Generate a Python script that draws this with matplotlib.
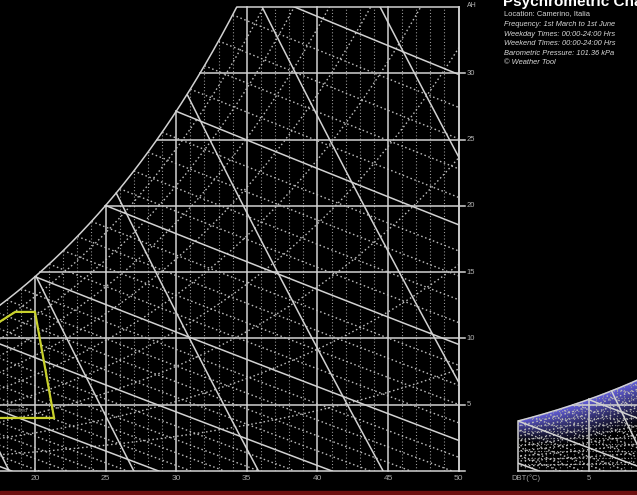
import numpy as np
import matplotlib
matplotlib.use("Agg")
import matplotlib.pyplot as plt

# ---- chart data -------------------------------------------------------
P_KPA = 101.36
dbt_major = [20, 25, 30, 35, 40, 45, 50]
dbt_labels = ["20", "25", "30", "35", "40", "45", "50"]
ah_major = [5, 10, 15, 20, 25, 30]
ah_labels = ["5", "10", "15", "20", "25", "30"]
rh_levels = [10, 20, 30, 40, 50, 60, 70, 80, 90]
wbt_levels = list(range(-5, 36))
volume_levels = [0.800, 0.825, 0.850, 0.875, 0.900, 0.925, 0.950]
ah_top = 35

comfort_dbt = [15.5, 18.6, 20.0, 21.35, 15.5]
comfort_ah = [9.9, 12.0, 12.0, 4.0, 4.0]

# hours band in the second chart: depth (g/kg) of the band below saturation
band_dbt = [0.0, 2.0, 4.0, 6.0, 8.5]
band_depth = [1.5, 2.4, 3.0, 3.3, 3.6]

info_title = "Psychrometric Chart"
info_lines = ["Location: Camerino, Italia",
              "Frequency: 1st March to 1st June",
              "Weekday Times: 00:00-24:00 Hrs",
              "Weekend Times: 00:00-24:00 Hrs",
              "Barometric Pressure: 101.36 kPa",
              "\u00a9 Weather Tool"]

# ---- psychrometric relations -----------------------------------------
def psat(t):
    t = np.asarray(t, dtype=float)
    return 0.61094 * np.exp(17.625 * t / (t + 243.04))

def w_sat(t):
    ps = psat(t)
    return 622.0 * ps / (P_KPA - ps)

def w_rh(t, rh):
    pv = rh / 100.0 * psat(t)
    return 622.0 * pv / (P_KPA - pv)

def t_sat_of_w(w):
    ts = np.linspace(-20, 60, 8001)
    return float(np.interp(w, w_sat(ts), ts))

def w_wetbulb(t, twb):
    ws = w_sat(twb) / 1000.0
    w = ((2501 - 2.326 * twb) * ws - 1.006 * (t - twb)) / (2501 + 1.86 * t - 4.186 * twb)
    return w * 1000.0

def w_volume(t, v):
    return (v * P_KPA / (0.287042 * (t + 273.15)) - 1.0) / 1.6078 * 1000.0

# ---- figure ------------------------------------------------------------
W_PX, H_PX = 637, 495
fig = plt.figure(figsize=(W_PX / 100, H_PX / 100), dpi=100, facecolor="black")

SOLID = "#d2d2d2"
DOT = "#bdbdbd"
GRID_DOT = "#a2a2a2"
LW = 1.1
PX_PER_C = 70.6 / 5
PX_PER_G = 464.0 / ah_top
BOTTOM_PX = 471


def make_axes(left_px, t_min):
    width_px = W_PX - left_px if left_px > 0 else 459
    ax = fig.add_axes([left_px / W_PX, (H_PX - BOTTOM_PX) / H_PX,
                       width_px / W_PX, ah_top * PX_PER_G / H_PX])
    ax.set_facecolor("black")
    ax.set_xlim(t_min, t_min + width_px / PX_PER_C)
    ax.set_ylim(0, ah_top)
    ax.axis("off")
    return ax


def draw_chart(ax, t_lo, t_hi, dense_grid=False):
    tt = np.linspace(t_lo - 1, t_hi + 1, 600)
    ws = w_sat(tt)
    # saturation curve
    ax.plot(tt, ws, color=SOLID, lw=LW)
    # dry bulb grid
    step = 0.5 if dense_grid else 1.0
    for t in np.arange(np.ceil(t_lo), t_hi + 0.01, step):
        top = min(float(w_sat(t)), ah_top)
        if abs(t % 5) < 1e-9:
            ax.plot([t, t], [0, top], color=SOLID, lw=LW, clip_on=False)
        else:
            ax.plot([t, t], [0, top], color=GRID_DOT, lw=0.8,
                    ls=(0, (0.9, 2.0)))
    if dense_grid:
        for w in np.arange(0.5, 8, 0.5):
            t0 = t_sat_of_w(w)
            ax.plot([max(t0, t_lo), t_hi], [w, w], color=GRID_DOT, lw=0.8,
                    ls=(0, (0.9, 2.0)))
    # humidity grid
    for w in ah_major:
        t0 = t_sat_of_w(w)
        if t0 < t_hi:
            ax.plot([t0, t_hi], [w, w], color=SOLID, lw=LW)
    # relative humidity curves
    for rh in rh_levels:
        ax.plot(tt, w_rh(tt, rh), color=DOT, lw=1.0, ls=(0, (1.1, 1.9)))
    # wet bulb lines
    for twb in wbt_levels:
        t_end = twb + (2501 - 2.326 * twb) * w_sat(twb) / 1000.0 / 1.006
        tl = np.linspace(twb, t_end, 200)
        wl = w_wetbulb(tl, twb)
        if twb % 5 == 0:
            ax.plot(tl, wl, color=SOLID, lw=LW)
        else:
            ax.plot(tl, wl, color=DOT, lw=1.0, ls=(0, (1.1, 1.9)))
    # specific volume lines
    tv = np.linspace(t_lo - 5, t_hi + 5, 1500)
    for v in volume_levels:
        wv = w_volume(tv, v)
        ok = (wv >= 0) & (wv <= w_sat(tv))
        ax.plot(tv[ok], wv[ok], color=SOLID, lw=LW)
    # base line
    ax.plot([t_lo, t_hi], [0, 0], color=SOLID, lw=LW, clip_on=False)


# main chart
T0 = 20 - 35 / PX_PER_C
ax = make_axes(0, T0)
draw_chart(ax, T0, 50)
t_top = t_sat_of_w(ah_top)
ax.plot([t_top, 50], [ah_top, ah_top], color=SOLID, lw=LW, clip_on=False)
ax.plot([50, 50], [0, ah_top], color=SOLID, lw=LW, clip_on=False)
ax.plot([50, 50.45], [0, 0], color=SOLID, lw=LW, clip_on=False)
for w, lab in zip(ah_major, ah_labels):
    ax.plot([50, 50.45], [w, w], color=SOLID, lw=LW, clip_on=False)
    ax.text(50.55, w, lab, color="#b4b4b4", fontsize=5.5, va="center",
            ha="left", family="Liberation Sans", clip_on=False)
ax.text(50.6, ah_top + 0.15, "AH", color="#b4b4b4", fontsize=5, va="center",
        ha="left", family="Liberation Sans", clip_on=False)
for t, lab in zip(dbt_major, dbt_labels):
    ax.text(t, -0.55, lab, color="#a8a8a8", fontsize=6, va="center",
            ha="center", family="Liberation Sans", clip_on=False)

# comfort zone
ax.plot(comfort_dbt + [comfort_dbt[0]], comfort_ah + [comfort_ah[0]],
        color="#c9d12c", lw=1.6, solid_joinstyle="miter")
ax.text(19.5, 4.6, "Specified", color="#9a9a9a", fontsize=3.6,
        ha="right", va="center", family="Liberation Sans")

# second chart, bottom right
ax2 = make_axes(518, 0.0)
t2_hi = 0.0 + (W_PX - 518) / PX_PER_C
# hours density band under the saturation curve
gx = np.linspace(0, t2_hi, 240)
gy = np.linspace(0, 12, 300)
GX, GY = np.meshgrid(gx, gy)
depth = np.interp(GX, band_dbt, band_depth)
below = w_sat(GX) - GY
alpha = np.where(below >= 0, np.clip(1.0 - below / depth, 0, 1) ** 1.1, 0) * 0.95
rgba = np.zeros(GX.shape + (4,))
rgba[..., 0] = 0.42
rgba[..., 1] = 0.40
rgba[..., 2] = 0.92
rgba[..., 3] = alpha
ax2.imshow(rgba, extent=[0, t2_hi, 0, 12], origin="lower", aspect="auto",
           interpolation="bilinear", zorder=0)
draw_chart(ax2, 0.0, t2_hi, dense_grid=True)
ax2.text(0.55, -0.55, "DBT(\u00b0C)", color="#a8a8a8", fontsize=5.5,
         va="center", ha="center", family="Liberation Sans", clip_on=False)
ax2.text(5, -0.55, "5", color="#a8a8a8", fontsize=5.5, va="center",
         ha="center", family="Liberation Sans", clip_on=False)

# information panel
fig.text(503 / W_PX, 1 - 6 / H_PX, info_title, color="white", fontsize=11,
         weight="bold", family="Liberation Sans", va="baseline", ha="left")
ys = [14, 24, 34, 43.5, 53.3, 63]
for i, (line, y) in enumerate(zip(info_lines, ys)):
    fig.text(504 / W_PX, 1 - y / H_PX, line, color="#d8d8d8", fontsize=5.4,
             style="normal" if i == 0 else "italic", family="Liberation Sans",
             va="center", ha="left")

# bottom strip
fig.patches.append(plt.Rectangle((0, 0), 1, 4 / H_PX, transform=fig.transFigure,
                                 color="#6e1010", zorder=5))

fig.savefig("out.png", dpi=100, facecolor="black")
